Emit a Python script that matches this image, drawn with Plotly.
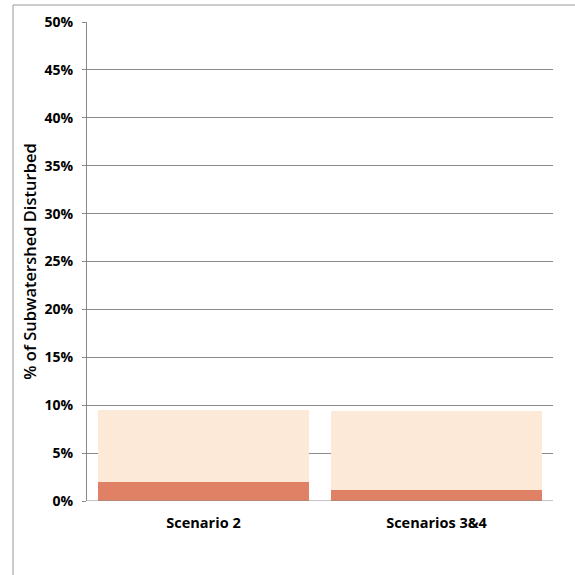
import plotly.graph_objects as go

# Share of each subwatershed disturbed, by scenario
categories = ["Scenario 2", "Scenarios 3&4"]
base_disturbed = [2.0, 1.2]          # darker lower segment (%)
additional_disturbed = [7.55, 8.2]   # lighter upper segment (%)
y_ticks = [0, 5, 10, 15, 20, 25, 30, 35, 40, 45, 50]
y_tick_labels = [f"{v}%" for v in y_ticks]

FONT = "'Open Sans', Lato, sans-serif"
GRID = "#8a8a8a"

fig = go.Figure()
fig.add_trace(go.Bar(
    x=categories, y=base_disturbed,
    marker=dict(color="#E08165", line=dict(width=0)),
    hoverinfo="skip",
))
fig.add_trace(go.Bar(
    x=categories, y=additional_disturbed,
    marker=dict(color="#FDE9D8", line=dict(width=0)),
    hoverinfo="skip",
))

ml, mr, mt, mb = 87, 22, 22, 74
pw, ph = 575 - ml - mr, 575 - mt - mb

fig.update_layout(
    width=575, height=575,
    barmode="stack", bargap=0.094,
    showlegend=False,
    paper_bgcolor="white", plot_bgcolor="white",
    margin=dict(l=ml, r=mr, t=mt, b=mb, pad=0),
    font=dict(family=FONT, color="black"),
    xaxis=dict(
        showgrid=False, zeroline=False,
        showline=False, ticks="",
        tickfont=dict(size=14.5, family=FONT, weight="bold"),
        ticklabelstandoff=11,
    ),
    yaxis=dict(
        range=[0, 50], tickvals=y_ticks, ticktext=y_tick_labels,
        showgrid=True, gridcolor=GRID, gridwidth=1,
        zeroline=False,
        showline=True, linecolor=GRID, linewidth=1,
        ticks="outside", ticklen=4, tickcolor=GRID,
        tickfont=dict(size=14, family=FONT, weight="bold"),
        ticklabelstandoff=6,
        title=dict(text="% of Subwatershed Disturbed",
                   font=dict(size=16.5, family=FONT, weight=600),
                   standoff=3),
    ),
    shapes=[
        # baseline at 0%
        dict(type="line", xref="paper", yref="y", x0=0, x1=1, y0=0, y1=0,
             line=dict(color=GRID, width=1), layer="above"),
        # outer chart frame (left and top edges)
        dict(type="line", xref="paper", yref="paper",
             x0=(13 - ml) / pw, x1=(13 - ml) / pw,
             y0=1 + (mt - 5) / ph, y1=(575 - mb - 600) / ph,
             line=dict(color="#9a9a9a", width=1)),
        dict(type="line", xref="paper", yref="paper",
             x0=(13 - ml) / pw, x1=(600 - ml) / pw,
             y0=1 + (mt - 5) / ph, y1=1 + (mt - 5) / ph,
             line=dict(color="#9a9a9a", width=1)),
    ],
)

fig.write_html("out.html")
